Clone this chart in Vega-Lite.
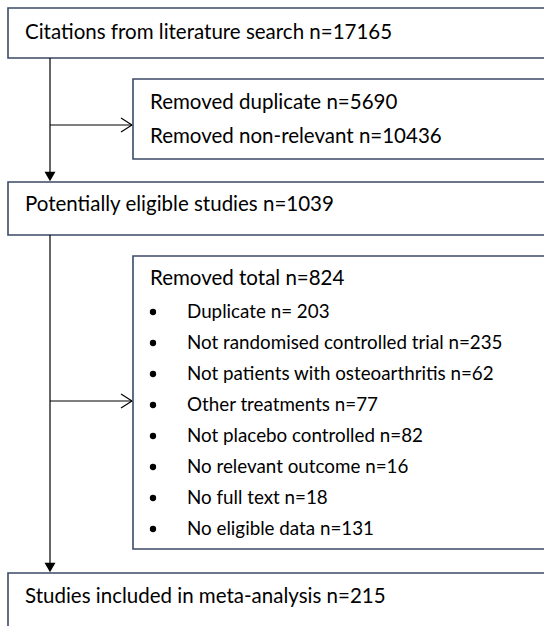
{
  "$schema": "https://vega.github.io/schema/vega-lite/v6.json",
  "width": 544,
  "height": 626,
  "padding": 0,
  "autosize": {"type": "none"},
  "background": "white",
  "config": {"view": {"stroke": null}},
  "layer": [
    {
      "data": {"values": [
        {"box": "search", "x": 8, "x2": 560, "y": 8, "y2": 58},
        {"box": "removed1", "x": 133, "x2": 560, "y": 79, "y2": 159},
        {"box": "eligible", "x": 8, "x2": 560, "y": 182, "y2": 235},
        {"box": "removed2", "x": 133, "x2": 560, "y": 256, "y2": 549},
        {"box": "included", "x": 8, "x2": 560, "y": 573, "y2": 640}
      ]},
      "mark": {"type": "rect", "fill": "white", "stroke": "#3B4A68", "strokeWidth": 1.6, "clip": true},
      "encoding": {
        "x": {"field": "x", "type": "quantitative", "scale": {"domain": [0, 544]}, "axis": null},
        "x2": {"field": "x2"},
        "y": {"field": "y", "type": "quantitative", "scale": {"domain": [0, 626], "reverse": true}, "axis": null},
        "y2": {"field": "y2"}
      }
    },
    {
      "data": {"values": [
        {"x": 50, "y": 58, "x2": 50, "y2": 175},
        {"x": 50, "y": 125, "x2": 132, "y2": 125},
        {"x": 121, "y": 118, "x2": 132, "y2": 125},
        {"x": 121, "y": 132, "x2": 132, "y2": 125},
        {"x": 50, "y": 235, "x2": 50, "y2": 566},
        {"x": 50, "y": 401, "x2": 132, "y2": 401},
        {"x": 121, "y": 394, "x2": 132, "y2": 401},
        {"x": 121, "y": 408, "x2": 132, "y2": 401}
      ]},
      "mark": {"type": "rule", "color": "black", "strokeWidth": 1.2},
      "encoding": {
        "x": {"field": "x", "type": "quantitative", "scale": {"domain": [0, 544]}, "axis": null},
        "x2": {"field": "x2"},
        "y": {"field": "y", "type": "quantitative", "scale": {"domain": [0, 626], "reverse": true}, "axis": null},
        "y2": {"field": "y2"}
      }
    },
    {
      "data": {"values": [
        {"x": 50, "y": 176.5},
        {"x": 50, "y": 567.5}
      ]},
      "mark": {"type": "point", "shape": "triangle-down", "filled": true, "color": "black", "size": 120, "opacity": 1},
      "encoding": {
        "x": {"field": "x", "type": "quantitative", "scale": {"domain": [0, 544]}, "axis": null},
        "y": {"field": "y", "type": "quantitative", "scale": {"domain": [0, 626], "reverse": true}, "axis": null}
      }
    },
    {
      "data": {"values": [
        {"x": 153, "y": 312},
        {"x": 153, "y": 343},
        {"x": 153, "y": 374},
        {"x": 153, "y": 405},
        {"x": 153, "y": 436},
        {"x": 153, "y": 467},
        {"x": 153, "y": 498},
        {"x": 153, "y": 529}
      ]},
      "mark": {"type": "point", "shape": "circle", "filled": true, "color": "black", "size": 40, "opacity": 1},
      "encoding": {
        "x": {"field": "x", "type": "quantitative", "scale": {"domain": [0, 544]}, "axis": null},
        "y": {"field": "y", "type": "quantitative", "scale": {"domain": [0, 626], "reverse": true}, "axis": null}
      }
    },
    {
      "data": {"values": [
        {"x": 25, "y": 33, "label": "Citations from literature search n=17165"},
        {"x": 150, "y": 103, "label": "Removed duplicate n=5690"},
        {"x": 150, "y": 137, "label": "Removed non-relevant n=10436"},
        {"x": 25, "y": 205, "label": "Potentially eligible studies n=1039"},
        {"x": 150, "y": 279, "label": "Removed total n=824"},
        {"x": 25, "y": 597, "label": "Studies included in meta-analysis n=215"}
      ]},
      "mark": {"type": "text", "align": "left", "baseline": "middle", "font": "Lato", "fontSize": 20.5, "color": "black"},
      "encoding": {
        "x": {"field": "x", "type": "quantitative", "scale": {"domain": [0, 544]}, "axis": null},
        "y": {"field": "y", "type": "quantitative", "scale": {"domain": [0, 626], "reverse": true}, "axis": null},
        "text": {"field": "label"}
      }
    },
    {
      "data": {"values": [
        {"x": 187, "y": 312, "label": "Duplicate n= 203"},
        {"x": 187, "y": 343, "label": "Not randomised controlled trial n=235"},
        {"x": 187, "y": 374, "label": "Not patients with osteoarthritis n=62"},
        {"x": 187, "y": 405, "label": "Other treatments n=77"},
        {"x": 187, "y": 436, "label": "Not placebo controlled n=82"},
        {"x": 187, "y": 467, "label": "No relevant outcome n=16"},
        {"x": 187, "y": 498, "label": "No full text n=18"},
        {"x": 187, "y": 529, "label": "No eligible data n=131"}
      ]},
      "mark": {"type": "text", "align": "left", "baseline": "middle", "font": "Lato", "fontSize": 18.8, "color": "black"},
      "encoding": {
        "x": {"field": "x", "type": "quantitative", "scale": {"domain": [0, 544]}, "axis": null},
        "y": {"field": "y", "type": "quantitative", "scale": {"domain": [0, 626], "reverse": true}, "axis": null},
        "text": {"field": "label"}
      }
    }
  ]
}
